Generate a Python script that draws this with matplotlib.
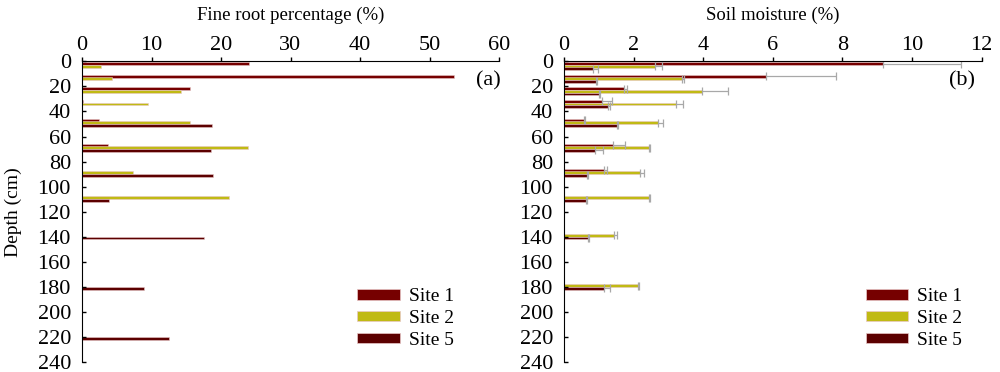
import numpy as np
import matplotlib
matplotlib.use("Agg")
import matplotlib.pyplot as plt
from matplotlib.patches import Patch

plt.rcParams['font.family'] = ['Liberation Serif', 'DejaVu Serif']
plt.rcParams['font.size'] = 14

nan = np.nan

# depth class mid-points (cm)
depth = [5, 15, 25, 35, 50, 70, 90, 110, 140, 180, 220]
sites = ["Site 1", "Site 2", "Site 5"]
colors = ["#760000", "#C0BA14", "#5C0000"]

# fine root percentage (%)
root_site1 = [24.0, 53.5, 15.6, 0.2, 2.4, 3.7, nan, nan, nan, nan, nan]
root_site2 = [2.7, 4.3, 14.3, 9.5, 15.5, 23.9, 7.3, 21.2, nan, nan, nan]
root_site5 = [nan, nan, nan, nan, 18.7, 18.5, 18.8, 3.9, 17.6, 8.9, 12.5]

# soil moisture (%) and upper error
moist_site1 = [9.16, 5.80, 1.72, 1.10, 0.57, 1.41, 1.15, nan, nan, nan, nan]
moist_site1_err = [2.24, 2.00, 0.10, 0.27, 0.04, 0.34, 0.09, nan, nan, nan, nan]
moist_site2 = [2.61, 3.38, 3.97, 3.22, 2.71, 2.43, 2.18, 2.43, 1.44, 2.14, nan]
moist_site2_err = [0.21, 0.07, 0.73, 0.19, 0.14, 0.04, 0.13, 0.04, 0.07, 0.01, nan]
moist_site5 = [0.82, 0.92, 1.00, 1.27, 1.51, 0.89, 0.65, 0.63, 0.68, 1.15, nan]
moist_site5_err = [0.15, 0.03, 0.03, 0.06, 0.05, 0.24, 0.05, 0.04, 0.03, 0.18, nan]

fig = plt.figure(figsize=(10, 3.72), dpi=100)
ax1 = fig.add_axes([0.082, 0.027, 0.417, 0.808])
ax2 = fig.add_axes([0.564, 0.027, 0.4177, 0.808])

d = np.array(depth, dtype=float) - 1
offsets = [-2, 0, 2]
bar_h = 2.3


def style_axis(ax, xmax, xstep, xlabel, tag, tagx, legx):
    ax.set_ylim(240, 0)
    ax.set_xlim(0, xmax)
    ax.set_yticks(np.arange(0, 241, 20))
    ax.set_xticks(np.arange(0, xmax + 0.1, xstep))
    ax.xaxis.tick_top()
    ax.xaxis.set_label_position('top')
    ax.set_xlabel(xlabel, fontsize=13.5, labelpad=12)
    ax.spines['right'].set_visible(False)
    ax.spines['bottom'].set_visible(False)
    ax.tick_params(axis='x', direction='out', length=3, width=1, pad=1.5, labelsize=16)
    ax.tick_params(axis='y', direction='in', length=3, width=1, pad=8, labelsize=16)
    ax.text(tagx, 0.935, tag, transform=ax.transAxes, ha='center', va='center', fontsize=16)
    handles = [Patch(facecolor=c, edgecolor='#E8C8C8', linewidth=0.5, label=s)
               for c, s in zip(colors, sites)]
    ax.legend(handles=handles, loc='upper left', bbox_to_anchor=(legx, 0.245),
              frameon=False, handlelength=2.2, handleheight=0.45,
              handletextpad=0.45, labelspacing=0.25, borderpad=0, borderaxespad=0)


# (a) fine roots
for vals, c, off in zip([root_site1, root_site2, root_site5], colors, offsets):
    ax1.barh(d + off, vals, height=bar_h, color=c, edgecolor='#E8C8C8', linewidth=0.4)
style_axis(ax1, 60, 10, "Fine root percentage (%)", "(a)", 0.974, 0.66)
ax1.set_ylabel("Depth (cm)", fontsize=14, labelpad=11)

# (b) soil moisture
moist = [moist_site1, moist_site2, moist_site5]
errs = [moist_site1_err, moist_site2_err, moist_site5_err]
for vals, err, c, off in zip(moist, errs, colors, offsets):
    vals = np.array(vals)
    err = np.array(err)
    ax2.barh(d + off, vals, height=bar_h, color=c, edgecolor='#E8C8C8', linewidth=0.4,
             xerr=[np.zeros_like(err), err],
             error_kw=dict(ecolor='#A8A8A8', elinewidth=0.9, capsize=3, capthick=0.9))
style_axis(ax2, 12, 2, "Soil moisture (%)", "(b)", 0.953, 0.722)

fig.savefig("out.png", dpi=100)
